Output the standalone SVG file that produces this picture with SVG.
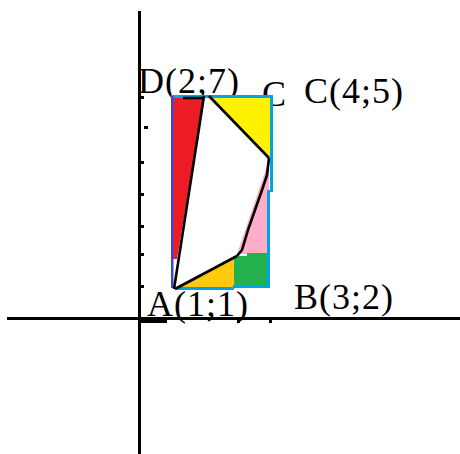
<svg xmlns="http://www.w3.org/2000/svg" width="460" height="454" viewBox="0 0 460 454">
<style>
.lbl{font-family:"Liberation Serif","Times New Roman",serif;font-size:36px;fill:#000;letter-spacing:1px}
.ax{stroke:#000;stroke-width:3;fill:none}
.tk{fill:#000}
.bl{stroke:#000;stroke-width:2.6;fill:none;stroke-linejoin:round}
.edge{fill:#00a2e8}
</style>
<rect width="460" height="454" fill="#fff"/>
<g id="labels">
<g id="label-D"><text class="lbl" x="138" y="93">D(2;7)</text></g>
<g id="label-C-small"><text class="lbl" x="262" y="106">C</text></g>
<g id="label-C"><text class="lbl" x="304" y="103">C(4;5)</text></g>
<g id="label-A"><text class="lbl" x="147" y="316">A(1;1)</text></g>
<g id="label-B"><text class="lbl" x="294" y="309">B(3;2)</text></g>
</g>
<g id="axes">
<line class="ax" x1="139.5" y1="11" x2="139.5" y2="454"/>
<line class="ax" x1="7" y1="318.5" x2="460" y2="318.5"/>
<rect class="tk" x="139" y="96" width="5" height="3"/>
<rect class="tk" x="144" y="126" width="4" height="3"/>
<rect class="tk" x="139" y="161" width="5" height="3"/>
<rect class="tk" x="139" y="193" width="5" height="3"/>
<rect class="tk" x="139" y="225" width="5" height="3"/>
<rect class="tk" x="139" y="253" width="5" height="3"/>
<rect class="tk" x="139" y="285" width="5" height="3"/>
<rect class="tk" x="140" y="320" width="27" height="3"/>
<rect class="tk" x="237" y="320" width="3" height="3"/>
<rect class="tk" x="269" y="320" width="3" height="3"/>
</g>
<g id="regions">
<polygon id="red" points="173,97 204,97 177,259 173,259" fill="#ed1c24"/>
<polygon id="yellow" points="209,97 271,97 271,158" fill="#fff200"/>
<polygon id="pink" points="269,160 269,254 237,254" fill="#ffaec9"/>
<polygon id="green" points="233,256 247,256 247,253 269,253 269,287 233,287" fill="#22b14c"/>
<polygon id="orange" points="176,288 234,257 234,288" fill="#ffc90e"/>
</g>
<g id="rectangle-ABCD">
<rect x="171" y="95" width="102" height="3" class="edge"/>
<rect x="171" y="96" width="2.5" height="192" fill="#3f48cc"/>
<rect x="270" y="96" width="3" height="96" class="edge"/>
<rect x="267" y="190" width="3" height="98" class="edge"/>
<rect x="177" y="287" width="57" height="3" class="edge"/>
<rect x="233" y="285" width="36" height="3" class="edge"/>
</g>
<g id="connectors">
<line class="bl" x1="204" y1="96" x2="174" y2="289"/>
<line class="bl" x1="183" y1="98" x2="203" y2="98"/>
<line class="bl" x1="209" y1="96" x2="269" y2="158"/>
<polyline class="bl" points="269,158 267,175 262,190 255,210 248,230 242,250 237,256"/>
<line class="bl" x1="237" y1="256" x2="175" y2="289"/>
</g>
</svg>
